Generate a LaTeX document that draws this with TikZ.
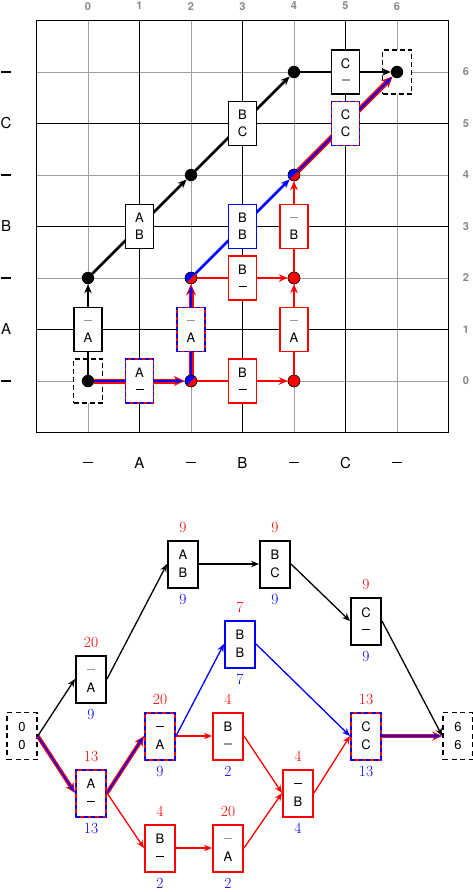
\documentclass[tikz,border=0pt]{standalone}
\usepackage{fontspec}
\setsansfont{TeX Gyre Heros}
\usetikzlibrary{arrows.meta,calc}
\definecolor{gridgray}{RGB}{160,160,160}
\definecolor{labgray}{RGB}{135,135,135}
\definecolor{dshgray}{RGB}{150,150,150}
\newcommand\gdsh{\textcolor{dshgray}{\rule[4.8pt]{8pt}{1.2pt}}}
\newcommand\kdsh{\rule[4.8pt]{8pt}{0.9pt}}
\newcommand\axdash{\rule{10pt}{1.1pt}}
\newcommand\twol[2]{\vphantom{A}#1\\\vphantom{A}#2}
\newcommand\splitdot[1]{%
  \fill[red] (#1) circle[radius=6pt];
  \fill[blue] (#1) ++(45:6pt) arc[start angle=45,end angle=225,radius=6pt] -- cycle;
  \draw[line width=0.6pt] (#1) circle[radius=6pt];}
\newcommand\reddot[1]{\filldraw[fill=red,draw=black,line width=0.6pt] (#1) circle[radius=6pt];}
\newcommand\blkdot[1]{\fill (#1) circle[radius=6.2pt];}
\newcommand\rbthick[2]{%
  \draw[red,line width=5pt,-{Stealth[length=11pt,width=10pt]}] (#1) -- (#2);
  \draw[blue,line width=1.8pt,-{Stealth[length=8pt,width=5pt]},shorten >=1.5pt] (#1) -- (#2);}
\newcommand\rbthin[2]{%
  \draw[red,line width=4pt,-{Stealth[length=10pt,width=9pt]}] (#1) -- (#2);
  \draw[blue,line width=1.5pt,-{Stealth[length=7pt,width=4.5pt]},shorten >=1.5pt] (#1) -- (#2);}
\newcommand\mkb[8]{%
  \node[#4] (#1) at (#2,#3) {\twol{#5}{#6}};
  \node[rnum] (#1r) at ([yshift=12pt]#1.north) {#7};
  \node[bnum] (#1b) at ([yshift=-11pt]#1.south) {#8};}
\tikzset{
  axnum/.style={text=labgray,font=\sffamily\bfseries\fontsize{11}{11}\selectfont,inner sep=0pt},
  axlet/.style={font=\sffamily\fontsize{15}{15}\selectfont,inner sep=0pt},
  dotc/.style={circle,minimum size=12pt,inner sep=0pt},
  tbox/.style={rectangle,draw,fill=white,line width=1.2pt,minimum width=28pt,minimum height=44pt,inner sep=0pt,align=center,font=\sffamily\fontsize{13}{17}\selectfont},
  tred/.style={tbox,draw=red},
  tblue/.style={tbox,draw=blue},
  trb/.style={tbox,fill=none,draw=blue,dash pattern=on 4pt off 3pt,preaction={draw=red,solid,fill=white}},
  dbox/.style={rectangle,draw,fill=white,line width=1.3pt,dash pattern=on 5pt off 3pt,minimum width=29pt,minimum height=44pt,inner sep=0pt,align=center,font=\sffamily\fontsize{13}{17}\selectfont},
  kl/.style={line width=2.8pt,-{Stealth[length=9pt,width=7.5pt]}},
  rl/.style={kl,red},
  bl/.style={kl,blue},
  bbox/.style={rectangle,draw,fill=white,line width=2pt,minimum width=30pt,minimum height=47pt,inner sep=0pt,align=center,font=\sffamily\fontsize{13}{17.5}\selectfont},
  bred/.style={bbox,draw=red},
  bblue/.style={bbox,draw=blue},
  brb/.style={bbox,fill=none,draw=blue,dash pattern=on 4pt off 3.5pt,preaction={draw=red,solid,fill=white}},
  bdsh/.style={bbox,line width=1.5pt,dash pattern=on 5pt off 3.5pt},
  rnum/.style={text=red,font=\fontsize{15.5}{15.5}\selectfont,inner sep=0pt},
  bnum/.style={text=blue,font=\fontsize{15.5}{15.5}\selectfont,inner sep=0pt},
  kt/.style={line width=1.3pt,-{Stealth[length=8pt,width=6.5pt]}},
  rt/.style={kt,red},
  bt/.style={kt,blue},
}
\begin{document}
\begin{tikzpicture}[x=1pt,y=-1pt]
\useasboundingbox (0,0) rectangle (473,892);
% ---------------- top grid ----------------
\begin{scope}[shift={(88,381)},x=51.5pt,y=51.5pt]
  \foreach \i in {0,2,4,6} {
    \draw[gridgray,line width=0.8pt] (\i,-1) -- (\i,7);
    \draw[gridgray,line width=0.8pt] (-1,\i) -- (7,\i);}
  \foreach \i in {1,3,5} {
    \draw[line width=1.1pt] (\i,-1) -- (\i,7);
    \draw[line width=1.1pt] (-1,\i) -- (7,\i);}
  \draw[line width=1.3pt] (-1,-1) rectangle (7,7);
  \foreach \i in {0,...,6} {
    \node[axnum] (tx\i) at (\i,7.28) {\i};
    \node[axnum] (ry\i) at (7.34,\i) {\i};}
  \foreach \i/\lab in {0/\axdash,1/A,2/\axdash,3/B,4/\axdash,5/C,6/\axdash} {
    \node[axlet] (lx\i) at (-1.59,\i) {\lab};
    \node[axlet] (by\i) at (\i,-1.59) {\lab};}
  \foreach \i/\j in {0/0,2/0,4/0,0/2,2/2,4/2,2/4,4/4,4/6,6/6}
    \node[dotc] (p\i\j) at (\i,\j) {};
  \node[dbox] (st) at (0,0) {};
  \node[dbox] (en) at (6,6) {};
  % connectors
  \draw[kl] (p00) -- (p02);
  \draw[kl] (p02) -- (p24);
  \draw[kl] (p24) -- (p46);
  \draw[kl] (p46) -- (p66);
  \draw[rl] (p20) -- (p40);
  \draw[rl] (p22) -- (p42);
  \draw[rl] (p40) -- (p42);
  \draw[rl] (p42) -- (p44);
  \draw[bl] (p22) -- (p44);
  \rbthick{p00}{p20}
  \rbthick{p20}{p22}
  \rbthick{p44}{p66}
  % dots
  \blkdot{p00}\blkdot{p02}\blkdot{p24}\blkdot{p46}\blkdot{p66}
  \reddot{p40}\reddot{p42}
  \splitdot{p20}\splitdot{p22}\splitdot{p44}
  % boxes
  \node[tbox] (b01) at (0,1) {\twol{\gdsh}{A}};
  \node[trb]  (b10) at (1,0) {\twol{A}{\kdsh}};
  \node[trb]  (b21) at (2,1) {\twol{\gdsh}{A}};
  \node[tred] (b30) at (3,0) {\twol{B}{\kdsh}};
  \node[tred] (b32) at (3,2) {\twol{B}{\kdsh}};
  \node[tred] (b41) at (4,1) {\twol{\gdsh}{A}};
  \node[tred] (b43) at (4,3) {\twol{\gdsh}{B}};
  \node[tblue](b33) at (3,3) {\twol{B}{B}};
  \node[tbox] (b13) at (1,3) {\twol{A}{B}};
  \node[tbox] (b35) at (3,5) {\twol{B}{C}};
  \node[trb]  (b55) at (5,5) {\twol{C}{C}};
  \node[tbox] (b56) at (5,6) {\twol{C}{\gdsh}};
\end{scope}
% ---------------- bottom graph ----------------
\node[bdsh] (s) at (22,736) {\twol{0}{0}};
\node[bdsh] (e) at (458,736) {\twol{6}{6}};
\mkb{n1}{91}{679}{bbox}{\gdsh}{A}{20}{9}
\mkb{n2}{183}{564}{bbox}{A}{B}{9}{9}
\mkb{n3}{275}{564}{bbox}{B}{C}{9}{9}
\mkb{n4}{366}{621}{bbox}{C}{\kdsh}{9}{9}
\mkb{m1}{91}{793}{brb}{A}{\kdsh}{13}{13}
\mkb{m2}{160}{736}{brb}{\kdsh}{A}{20}{9}
\mkb{bb}{240}{644}{bblue}{B}{B}{7}{7}
\mkb{r1}{228}{736}{bred}{B}{\gdsh}{4}{2}
\mkb{r2}{298}{793}{bred}{\kdsh}{B}{4}{4}
\mkb{cc}{366}{736}{brb}{C}{C}{13}{13}
\mkb{r3}{160}{848}{bred}{B}{\kdsh}{4}{2}
\mkb{r4}{228}{848}{bred}{\gdsh}{A}{20}{2}
\draw[kt] (s.east) -- (n1.west);
\draw[kt] (n1.east) -- (n2.west);
\draw[kt] (n2.east) -- (n3.west);
\draw[kt] (n3.east) -- (n4.west);
\draw[kt] (n4.east) -- (e.west);
\rbthin{s.east}{m1.west}
\rbthin{m1.east}{m2.west}
\draw[rt] (m1.east) -- (r3.west);
\draw[rt] (m2.east) -- (r1.west);
\draw[bt] (m2.east) -- (bb.west);
\draw[bt] (bb.east) -- (cc.west);
\draw[rt] (r1.east) -- (r2.west);
\draw[rt] (r3.east) -- (r4.west);
\draw[rt] (r4.east) -- (r2.west);
\draw[rt] (r2.east) -- (cc.west);
\rbthin{cc.east}{e.west}
\end{tikzpicture}
\end{document}
